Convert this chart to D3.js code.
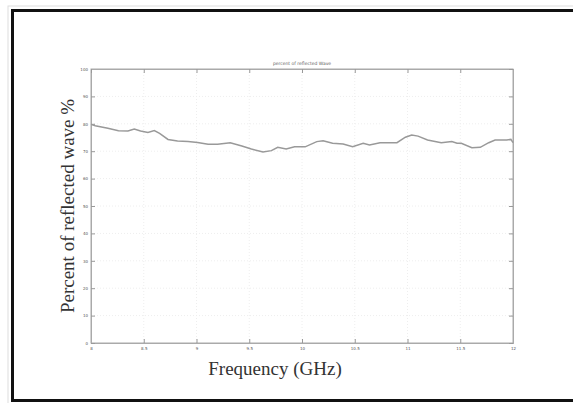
<!DOCTYPE html>
<html>
<head>
<meta charset="utf-8">
<script src="https://cdn.jsdelivr.net/npm/d3@7"></script>
<style>
body { margin: 0; background: #fff; }
</style>
</head>
<body>
<script>
// reflected wave percentage vs frequency (X band)
var freq = [8.00, 8.04, 8.16, 8.26, 8.35, 8.41, 8.47, 8.54, 8.60, 8.65, 8.73, 8.82, 8.92, 9.01,
	9.11, 9.20, 9.32, 9.43, 9.52, 9.63, 9.71, 9.77, 9.85, 9.93, 10.03, 10.14, 10.20, 10.29,
	10.39, 10.48, 10.58, 10.64, 10.74, 10.90, 10.98, 11.04, 11.10, 11.19, 11.32, 11.42, 11.47,
	11.51, 11.61, 11.69, 11.77, 11.83, 11.94, 11.98, 12.00];
var percent = [79.8, 79.3, 78.4, 77.5, 77.4, 78.1, 77.4, 76.8, 77.5, 76.5, 74.3, 73.7, 73.5, 73.2,
	72.5, 72.5, 73.1, 71.9, 70.8, 69.7, 70.2, 71.4, 70.8, 71.6, 71.6, 73.5, 73.8, 72.9,
	72.6, 71.6, 72.9, 72.3, 73.1, 73.1, 75.1, 75.9, 75.5, 74.1, 73.1, 73.5, 72.9,
	72.9, 71.3, 71.4, 73.1, 74.1, 74.1, 74.3, 73.1];
var xTicks = [8, 8.5, 9, 9.5, 10, 10.5, 11, 11.5, 12];
var yTicks = [0, 10, 20, 30, 40, 50, 60, 70, 80, 90, 100];

var width = 573;
var height = 403;
var plotLeft = 91, plotRight = 513, plotTop = 69, plotBottom = 343;

var svg = d3.select("body").append("svg")
	.attr("width", width)
	.attr("height", height);

// outer frame
svg.append("rect")
	.attr("x", 8).attr("y", 6)
	.attr("width", 600).attr("height", 398)
	.attr("fill", "none").attr("stroke", "#ddd").attr("stroke-width", 1);
svg.append("rect")
	.attr("x", 12.5).attr("y", 10.5)
	.attr("width", 600).attr("height", 390)
	.attr("fill", "none").attr("stroke", "#111").attr("stroke-width", 3);

var x = d3.scaleLinear().domain([8, 12]).range([plotLeft, plotRight]);
var y = d3.scaleLinear().domain([0, 100]).range([plotBottom, plotTop]);

// faint grid
svg.append("g").selectAll("line").data(xTicks.slice(1, -1)).enter().append("line")
	.attr("x1", function(d) { return x(d); })
	.attr("x2", function(d) { return x(d); })
	.attr("y1", plotTop).attr("y2", plotBottom)
	.attr("stroke", "#eee").attr("stroke-dasharray", "1,2");
svg.append("g").selectAll("line").data(yTicks.slice(1, -1)).enter().append("line")
	.attr("y1", function(d) { return y(d); })
	.attr("y2", function(d) { return y(d); })
	.attr("x1", plotLeft).attr("x2", plotRight)
	.attr("stroke", "#eee").attr("stroke-dasharray", "1,2");

// box
svg.append("rect")
	.attr("x", plotLeft).attr("y", plotTop)
	.attr("width", plotRight - plotLeft).attr("height", plotBottom - plotTop)
	.attr("fill", "none").attr("stroke", "#aaa").attr("stroke-width", 1);

var xAxis = svg.append("g")
	.attr("transform", "translate(0," + plotBottom + ")")
	.call(d3.axisBottom(x).tickValues(xTicks).tickSize(-4).tickPadding(4).tickFormat(d3.format("")));
var yAxis = svg.append("g")
	.attr("transform", "translate(" + plotLeft + ",0)")
	.call(d3.axisLeft(y).tickValues(yTicks).tickSize(-4).tickPadding(3));
var xAxisTop = svg.append("g")
	.attr("transform", "translate(0," + plotTop + ")")
	.call(d3.axisTop(x).tickValues(xTicks).tickSize(-4).tickFormat(""));
var yAxisRight = svg.append("g")
	.attr("transform", "translate(" + plotRight + ",0)")
	.call(d3.axisRight(y).tickValues(yTicks).tickSize(-4).tickFormat(""));

[xAxis, yAxis, xAxisTop, yAxisRight].forEach(function(g) {
	g.select(".domain").attr("stroke", "#aaa");
	g.selectAll(".tick line").attr("stroke", "#999");
	g.selectAll("text")
		.attr("font-family", "DejaVu Sans")
		.attr("font-size", "4px")
		.attr("fill", "#555");
});

// data line
var line = d3.line()
	.x(function(d, i) { return x(freq[i]); })
	.y(function(d) { return y(d); });
svg.append("path")
	.datum(percent)
	.attr("d", line)
	.attr("fill", "none")
	.attr("stroke", "#999")
	.attr("stroke-width", 1.5);

// title
svg.append("text")
	.text("percent of reflected Wave")
	.attr("x", 302).attr("y", 65)
	.attr("text-anchor", "middle")
	.attr("font-family", "DejaVu Sans")
	.attr("font-size", "4.5px")
	.attr("fill", "#666");

svg.append("text")
	.text("Frequency (GHz)")
	.attr("x", 275).attr("y", 375)
	.attr("text-anchor", "middle")
	.attr("font-family", "Liberation Serif")
	.attr("font-size", "19px")
	.attr("fill", "#333");

svg.append("text")
	.text("Percent of reflected wave %")
	.attr("transform", "translate(74,206) rotate(-90)")
	.attr("text-anchor", "middle")
	.attr("font-family", "Liberation Serif")
	.attr("font-size", "19px")
	.attr("fill", "#333");
</script>
</body>
</html>
